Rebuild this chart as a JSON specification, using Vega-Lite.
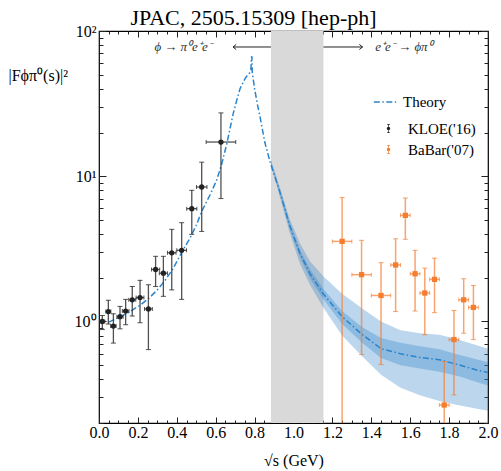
{
  "$schema": "https://vega.github.io/schema/vega-lite/v6.json",
  "width": 389,
  "height": 392,
  "autosize": "none",
  "padding": {"left": 99, "top": 31, "right": 13, "bottom": 48},
  "background": "white",
  "title": {"text": "JPAC, 2505.15309 [hep-ph]", "font": "Liberation Serif", "fontSize": 22, "fontWeight": "normal", "color": "black", "anchor": "middle", "frame": "group", "offset": -7, "dx": -40},
  "config": {
    "view": {"stroke": "black", "strokeWidth": 1.2},
    "axis": {"domain": false, "grid": false, "labelFont": "Liberation Serif", "labelFontSize": 16, "labelColor": "black", "titleFont": "Liberation Serif", "titleFontWeight": "normal", "titleColor": "black", "tickColor": "#222", "tickWidth": 1, "labelFlush": false, "labelOverlap": false},
    "legend": {"labelFont": "Liberation Serif", "labelFontSize": 15, "labelColor": "black", "padding": 0}
  },
  "datasets": {
    "gray": [{"a": 0.884, "b": 1.154}],
    "theory": [
      {"x": 0.05, "y": 0.99}, {"x": 0.10, "y": 1.06}, {"x": 0.15, "y": 1.15}, {"x": 0.21, "y": 1.29},
      {"x": 0.26, "y": 1.46}, {"x": 0.30, "y": 1.65}, {"x": 0.34, "y": 1.92}, {"x": 0.38, "y": 2.3},
      {"x": 0.42, "y": 2.9}, {"x": 0.47, "y": 3.8}, {"x": 0.50, "y": 4.6}, {"x": 0.53, "y": 5.8},
      {"x": 0.57, "y": 7.4}, {"x": 0.605, "y": 9.4}, {"x": 0.63, "y": 12.0}, {"x": 0.656, "y": 16.5},
      {"x": 0.69, "y": 27}, {"x": 0.71, "y": 34}, {"x": 0.725, "y": 40}, {"x": 0.74, "y": 44},
      {"x": 0.751, "y": 47}, {"x": 0.765, "y": 50}, {"x": 0.775, "y": 51.5}, {"x": 0.781, "y": 54},
      {"x": 0.784, "y": 66}, {"x": 0.786, "y": 67}, {"x": 0.788, "y": 52}, {"x": 0.80, "y": 40},
      {"x": 0.815, "y": 31}, {"x": 0.828, "y": 25.6}, {"x": 0.853, "y": 17}, {"x": 0.88, "y": 12.5},
      {"x": 0.90, "y": 10.3}, {"x": 0.93, "y": 7.8}, {"x": 0.98, "y": 4.6}, {"x": 1.033, "y": 2.95},
      {"x": 1.085, "y": 2.13}, {"x": 1.153, "y": 1.55}, {"x": 1.25, "y": 1.08}, {"x": 1.35, "y": 0.82},
      {"x": 1.45, "y": 0.65}, {"x": 1.55, "y": 0.60}, {"x": 1.65, "y": 0.565}, {"x": 1.75, "y": 0.545},
      {"x": 1.85, "y": 0.503}, {"x": 1.95, "y": 0.46}, {"x": 2.0, "y": 0.445}
    ],
    "band": [
      {"x": 0.884, "lo1": 12.0, "hi1": 13.0, "lo2": 12.2, "hi2": 12.8},
      {"x": 0.93, "lo1": 7.2, "hi1": 8.4, "lo2": 7.5, "hi2": 8.1},
      {"x": 0.98, "lo1": 4.1, "hi1": 5.1, "lo2": 4.35, "hi2": 4.85},
      {"x": 1.033, "lo1": 2.5, "hi1": 3.45, "lo2": 2.77, "hi2": 3.12},
      {"x": 1.085, "lo1": 1.78, "hi1": 2.6, "lo2": 1.98, "hi2": 2.30},
      {"x": 1.153, "lo1": 1.25, "hi1": 2.05, "lo2": 1.43, "hi2": 1.68},
      {"x": 1.25, "lo1": 0.80, "hi1": 1.55, "lo2": 0.96, "hi2": 1.18},
      {"x": 1.35, "lo1": 0.58, "hi1": 1.24, "lo2": 0.72, "hi2": 0.92},
      {"x": 1.45, "lo1": 0.43, "hi1": 1.0, "lo2": 0.56, "hi2": 0.77},
      {"x": 1.55, "lo1": 0.35, "hi1": 0.87, "lo2": 0.50, "hi2": 0.715},
      {"x": 1.65, "lo1": 0.31, "hi1": 0.83, "lo2": 0.475, "hi2": 0.675},
      {"x": 1.75, "lo1": 0.283, "hi1": 0.81, "lo2": 0.45, "hi2": 0.645},
      {"x": 1.85, "lo1": 0.265, "hi1": 0.75, "lo2": 0.42, "hi2": 0.59},
      {"x": 1.95, "lo1": 0.25, "hi1": 0.68, "lo2": 0.38, "hi2": 0.545},
      {"x": 2.0, "lo1": 0.243, "hi1": 0.648, "lo2": 0.362, "hi2": 0.524}
    ],
    "pts": [
      {"exp": "KLOE('16)", "x": 0.017, "y": 1.00, "lo": 0.88, "hi": 1.10, "xlo": 0.004, "xhi": 0.030},
      {"exp": "KLOE('16)", "x": 0.048, "y": 1.17, "lo": 0.96, "hi": 1.40, "xlo": 0.035, "xhi": 0.061},
      {"exp": "KLOE('16)", "x": 0.074, "y": 0.93, "lo": 0.71, "hi": 1.13, "xlo": 0.060, "xhi": 0.088},
      {"exp": "KLOE('16)", "x": 0.108, "y": 1.08, "lo": 0.89, "hi": 1.27, "xlo": 0.092, "xhi": 0.124},
      {"exp": "KLOE('16)", "x": 0.137, "y": 1.18, "lo": 0.95, "hi": 1.42, "xlo": 0.120, "xhi": 0.154},
      {"exp": "KLOE('16)", "x": 0.171, "y": 1.41, "lo": 1.09, "hi": 1.74, "xlo": 0.153, "xhi": 0.189},
      {"exp": "KLOE('16)", "x": 0.211, "y": 1.46, "lo": 0.98, "hi": 1.92, "xlo": 0.191, "xhi": 0.231},
      {"exp": "KLOE('16)", "x": 0.254, "y": 1.22, "lo": 0.64, "hi": 1.79, "xlo": 0.234, "xhi": 0.274},
      {"exp": "KLOE('16)", "x": 0.291, "y": 2.28, "lo": 1.74, "hi": 2.81, "xlo": 0.270, "xhi": 0.312},
      {"exp": "KLOE('16)", "x": 0.331, "y": 2.15, "lo": 1.49, "hi": 2.81, "xlo": 0.310, "xhi": 0.352},
      {"exp": "KLOE('16)", "x": 0.374, "y": 2.97, "lo": 1.65, "hi": 4.31, "xlo": 0.352, "xhi": 0.396},
      {"exp": "KLOE('16)", "x": 0.425, "y": 3.09, "lo": 1.42, "hi": 4.79, "xlo": 0.400, "xhi": 0.450},
      {"exp": "KLOE('16)", "x": 0.477, "y": 5.98, "lo": 3.98, "hi": 8.0, "xlo": 0.451, "xhi": 0.503},
      {"exp": "KLOE('16)", "x": 0.528, "y": 8.43, "lo": 4.17, "hi": 12.5, "xlo": 0.501, "xhi": 0.555},
      {"exp": "KLOE('16)", "x": 0.627, "y": 17.2, "lo": 7.02, "hi": 27.3, "xlo": 0.551, "xhi": 0.703},
      {"exp": "BaBar('07)", "x": 1.25, "y": 3.56, "lo": 0.05, "hi": 7.13, "xlo": 1.20, "xhi": 1.30},
      {"exp": "BaBar('07)", "x": 1.35, "y": 2.10, "lo": 0.592, "hi": 3.62, "xlo": 1.30, "xhi": 1.40},
      {"exp": "BaBar('07)", "x": 1.45, "y": 1.51, "lo": 0.505, "hi": 2.54, "xlo": 1.40, "xhi": 1.50},
      {"exp": "BaBar('07)", "x": 1.525, "y": 2.45, "lo": 1.17, "hi": 3.71, "xlo": 1.50, "xhi": 1.55},
      {"exp": "BaBar('07)", "x": 1.575, "y": 5.38, "lo": 3.68, "hi": 7.08, "xlo": 1.55, "xhi": 1.60},
      {"exp": "BaBar('07)", "x": 1.625, "y": 2.13, "lo": 1.18, "hi": 3.09, "xlo": 1.60, "xhi": 1.65},
      {"exp": "BaBar('07)", "x": 1.675, "y": 1.57, "lo": 0.81, "hi": 2.33, "xlo": 1.65, "xhi": 1.70},
      {"exp": "BaBar('07)", "x": 1.725, "y": 1.95, "lo": 1.15, "hi": 2.73, "xlo": 1.70, "xhi": 1.75},
      {"exp": "BaBar('07)", "x": 1.775, "y": 0.266, "lo": 0.05, "hi": 0.53, "xlo": 1.75, "xhi": 1.80},
      {"exp": "BaBar('07)", "x": 1.825, "y": 0.751, "lo": 0.312, "hi": 1.19, "xlo": 1.80, "xhi": 1.85},
      {"exp": "BaBar('07)", "x": 1.875, "y": 1.41, "lo": 0.83, "hi": 1.97, "xlo": 1.85, "xhi": 1.90},
      {"exp": "BaBar('07)", "x": 1.925, "y": 1.25, "lo": 0.75, "hi": 1.77, "xlo": 1.90, "xhi": 1.95}
    ],
    "ann": [
      {"t": "ϕ → π⁰e⁺e⁻", "x": 0.432, "y": 77.6},
      {"t": "e⁺e⁻ → ϕπ⁰", "x": 1.568, "y": 77.6}
    ],
    "arrowL": [{"x1": 0.689, "x2": 0.884, "y": 77.6}],
    "arrowR": [{"x1": 1.154, "x2": 1.355, "y": 77.6}]
  },
  "layer": [
    {
      "data": {"name": "gray"},
      "mark": {"type": "rect", "fill": "#d9d9d9"},
      "encoding": {
        "x": {"field": "a", "type": "quantitative", "scale": {"domain": [0, 2], "nice": false, "zero": false}, "axis": null},
        "x2": {"field": "b"}
      }
    },
    {
      "data": {"name": "band"},
      "mark": {"type": "area", "fill": "#2a80c8", "opacity": 0.32, "clip": true},
      "encoding": {
        "x": {"field": "x", "type": "quantitative", "scale": {"domain": [0, 2], "nice": false, "zero": false}, "axis": null},
        "y": {"field": "lo1", "type": "quantitative", "scale": {"type": "log", "domain": [0.2, 100], "nice": false}, "axis": null},
        "y2": {"field": "hi1"}
      }
    },
    {
      "data": {"name": "band"},
      "mark": {"type": "area", "fill": "#2a80c8", "opacity": 0.32, "clip": true},
      "encoding": {
        "x": {"field": "x", "type": "quantitative", "scale": {"domain": [0, 2], "nice": false, "zero": false}, "axis": null},
        "y": {"field": "lo2", "type": "quantitative", "scale": {"type": "log", "domain": [0.2, 100], "nice": false}, "axis": null},
        "y2": {"field": "hi2"}
      }
    },
    {
      "data": {"name": "theory"},
      "mark": {"type": "line", "stroke": "#2a84cc", "strokeWidth": 1.5, "clip": true},
      "encoding": {
        "x": {"field": "x", "type": "quantitative", "scale": {"domain": [0, 2], "nice": false, "zero": false}, "axis": null},
        "y": {"field": "y", "type": "quantitative", "scale": {"type": "log", "domain": [0.2, 100], "nice": false}, "axis": null},
        "strokeDash": {"datum": "Theory", "type": "nominal", "scale": {"domain": ["Theory"], "range": [[6, 2.5, 1.5, 2.5]]},
          "legend": {"title": null, "orient": "none", "legendX": 274, "legendY": 59, "symbolStrokeColor": "#2a84cc", "symbolSize": 500, "symbolStrokeWidth": 1.5, "labelOffset": 6}}
      }
    },
    {
      "data": {"name": "arrowL"},
      "mark": {"type": "rule", "stroke": "#222", "strokeWidth": 1},
      "encoding": {
        "x": {"field": "x1", "type": "quantitative", "scale": {"domain": [0, 2], "nice": false, "zero": false}, "axis": null},
        "x2": {"field": "x2"},
        "y": {"field": "y", "type": "quantitative", "scale": {"type": "log", "domain": [0.2, 100], "nice": false}, "axis": null}
      }
    },
    {
      "data": {"name": "arrowR"},
      "mark": {"type": "rule", "stroke": "#222", "strokeWidth": 1},
      "encoding": {
        "x": {"field": "x1", "type": "quantitative", "scale": {"domain": [0, 2], "nice": false, "zero": false}, "axis": null},
        "x2": {"field": "x2"},
        "y": {"field": "y", "type": "quantitative", "scale": {"type": "log", "domain": [0.2, 100], "nice": false}, "axis": null}
      }
    },
    {
      "data": {"name": "arrowL"},
      "mark": {"type": "point", "shape": "M1,-0.8L0,0L1,0.8", "filled": false, "stroke": "#222", "strokeWidth": 1, "size": 40, "opacity": 1},
      "encoding": {
        "x": {"field": "x1", "type": "quantitative", "scale": {"domain": [0, 2], "nice": false, "zero": false}, "axis": null},
        "y": {"field": "y", "type": "quantitative", "scale": {"type": "log", "domain": [0.2, 100], "nice": false}, "axis": null}
      }
    },
    {
      "data": {"name": "arrowR"},
      "mark": {"type": "point", "shape": "M-1,-0.8L0,0L-1,0.8", "filled": false, "stroke": "#222", "strokeWidth": 1, "size": 40, "opacity": 1},
      "encoding": {
        "x": {"field": "x2", "type": "quantitative", "scale": {"domain": [0, 2], "nice": false, "zero": false}, "axis": null},
        "y": {"field": "y", "type": "quantitative", "scale": {"type": "log", "domain": [0.2, 100], "nice": false}, "axis": null}
      }
    },
    {
      "data": {"name": "ann"},
      "mark": {"type": "text", "font": "Liberation Serif", "fontSize": 13, "fontStyle": "italic", "color": "#333", "baseline": "middle", "align": "center"},
      "encoding": {
        "x": {"field": "x", "type": "quantitative", "scale": {"domain": [0, 2], "nice": false, "zero": false}, "axis": null},
        "y": {"field": "y", "type": "quantitative", "scale": {"type": "log", "domain": [0.2, 100], "nice": false}, "axis": null},
        "text": {"field": "t"}
      }
    },
    {
      "data": {"name": "pts"},
      "transform": [{"filter": {"field": "exp", "equal": "KLOE('16)"}}],
      "mark": {"type": "rule", "stroke": "#333", "strokeWidth": 1.3, "opacity": 0.85, "clip": true},
      "encoding": {
        "x": {"field": "x", "type": "quantitative", "scale": {"domain": [0, 2], "nice": false, "zero": false}, "axis": null},
        "y": {"field": "lo", "type": "quantitative", "scale": {"type": "log", "domain": [0.2, 100], "nice": false}, "axis": null},
        "y2": {"field": "hi"}
      }
    },
    {
      "data": {"name": "pts"},
      "transform": [{"filter": {"field": "exp", "equal": "KLOE('16)"}}],
      "mark": {"type": "rule", "stroke": "#333", "strokeWidth": 1.3, "opacity": 0.85, "clip": true},
      "encoding": {
        "x": {"field": "xlo", "type": "quantitative", "scale": {"domain": [0, 2], "nice": false, "zero": false}, "axis": null},
        "x2": {"field": "xhi"},
        "y": {"field": "y", "type": "quantitative", "scale": {"type": "log", "domain": [0.2, 100], "nice": false}, "axis": null}
      }
    },
    {
      "data": {"name": "pts"},
      "transform": [{"filter": {"field": "exp", "equal": "KLOE('16)"}}],
      "mark": {"type": "tick", "orient": "horizontal", "size": 5, "thickness": 1, "color": "#333", "opacity": 0.85, "clip": true},
      "encoding": {
        "x": {"field": "x", "type": "quantitative", "scale": {"domain": [0, 2], "nice": false, "zero": false}, "axis": null},
        "y": {"field": "hi", "type": "quantitative", "scale": {"type": "log", "domain": [0.2, 100], "nice": false}, "axis": null}
      }
    },
    {
      "data": {"name": "pts"},
      "transform": [{"filter": {"field": "exp", "equal": "KLOE('16)"}}],
      "mark": {"type": "tick", "orient": "horizontal", "size": 5, "thickness": 1, "color": "#333", "opacity": 0.85, "clip": true},
      "encoding": {
        "x": {"field": "x", "type": "quantitative", "scale": {"domain": [0, 2], "nice": false, "zero": false}, "axis": null},
        "y": {"field": "lo", "type": "quantitative", "scale": {"type": "log", "domain": [0.2, 100], "nice": false}, "axis": null}
      }
    },
    {
      "data": {"name": "pts"},
      "transform": [{"filter": {"field": "exp", "equal": "KLOE('16)"}}],
      "mark": {"type": "tick", "orient": "vertical", "size": 4, "thickness": 1, "color": "#333", "opacity": 0.85, "clip": true},
      "encoding": {
        "x": {"field": "xlo", "type": "quantitative", "scale": {"domain": [0, 2], "nice": false, "zero": false}, "axis": null},
        "y": {"field": "y", "type": "quantitative", "scale": {"type": "log", "domain": [0.2, 100], "nice": false}, "axis": null}
      }
    },
    {
      "data": {"name": "pts"},
      "transform": [{"filter": {"field": "exp", "equal": "KLOE('16)"}}],
      "mark": {"type": "tick", "orient": "vertical", "size": 4, "thickness": 1, "color": "#333", "opacity": 0.85, "clip": true},
      "encoding": {
        "x": {"field": "xhi", "type": "quantitative", "scale": {"domain": [0, 2], "nice": false, "zero": false}, "axis": null},
        "y": {"field": "y", "type": "quantitative", "scale": {"type": "log", "domain": [0.2, 100], "nice": false}, "axis": null}
      }
    },
    {
      "data": {"name": "pts"},
      "transform": [{"filter": {"field": "exp", "equal": "BaBar('07)"}}],
      "mark": {"type": "rule", "stroke": "#f47d30", "strokeWidth": 1.5, "opacity": 0.7, "clip": true},
      "encoding": {
        "x": {"field": "x", "type": "quantitative", "scale": {"domain": [0, 2], "nice": false, "zero": false}, "axis": null},
        "y": {"field": "lo", "type": "quantitative", "scale": {"type": "log", "domain": [0.2, 100], "nice": false}, "axis": null},
        "y2": {"field": "hi"}
      }
    },
    {
      "data": {"name": "pts"},
      "transform": [{"filter": {"field": "exp", "equal": "BaBar('07)"}}],
      "mark": {"type": "rule", "stroke": "#f47d30", "strokeWidth": 1.5, "opacity": 0.7, "clip": true},
      "encoding": {
        "x": {"field": "xlo", "type": "quantitative", "scale": {"domain": [0, 2], "nice": false, "zero": false}, "axis": null},
        "x2": {"field": "xhi"},
        "y": {"field": "y", "type": "quantitative", "scale": {"type": "log", "domain": [0.2, 100], "nice": false}, "axis": null}
      }
    },
    {
      "data": {"name": "pts"},
      "transform": [{"filter": {"field": "exp", "equal": "BaBar('07)"}}],
      "mark": {"type": "tick", "orient": "horizontal", "size": 5, "thickness": 1, "color": "#f47d30", "opacity": 0.7, "clip": true},
      "encoding": {
        "x": {"field": "x", "type": "quantitative", "scale": {"domain": [0, 2], "nice": false, "zero": false}, "axis": null},
        "y": {"field": "hi", "type": "quantitative", "scale": {"type": "log", "domain": [0.2, 100], "nice": false}, "axis": null}
      }
    },
    {
      "data": {"name": "pts"},
      "transform": [{"filter": {"field": "exp", "equal": "BaBar('07)"}}],
      "mark": {"type": "tick", "orient": "horizontal", "size": 5, "thickness": 1, "color": "#f47d30", "opacity": 0.7, "clip": true},
      "encoding": {
        "x": {"field": "x", "type": "quantitative", "scale": {"domain": [0, 2], "nice": false, "zero": false}, "axis": null},
        "y": {"field": "lo", "type": "quantitative", "scale": {"type": "log", "domain": [0.2, 100], "nice": false}, "axis": null}
      }
    },
    {
      "data": {"name": "pts"},
      "transform": [{"filter": {"field": "exp", "equal": "BaBar('07)"}}],
      "mark": {"type": "tick", "orient": "vertical", "size": 4, "thickness": 1, "color": "#f47d30", "opacity": 0.7, "clip": true},
      "encoding": {
        "x": {"field": "xlo", "type": "quantitative", "scale": {"domain": [0, 2], "nice": false, "zero": false}, "axis": null},
        "y": {"field": "y", "type": "quantitative", "scale": {"type": "log", "domain": [0.2, 100], "nice": false}, "axis": null}
      }
    },
    {
      "data": {"name": "pts"},
      "transform": [{"filter": {"field": "exp", "equal": "BaBar('07)"}}],
      "mark": {"type": "tick", "orient": "vertical", "size": 4, "thickness": 1, "color": "#f47d30", "opacity": 0.7, "clip": true},
      "encoding": {
        "x": {"field": "xhi", "type": "quantitative", "scale": {"domain": [0, 2], "nice": false, "zero": false}, "axis": null},
        "y": {"field": "y", "type": "quantitative", "scale": {"type": "log", "domain": [0.2, 100], "nice": false}, "axis": null}
      }
    },
    {
      "data": {"name": "pts"},
      "transform": [{"filter": {"field": "exp", "equal": "KLOE('16)"}}],
      "mark": {"type": "point", "shape": "circle", "filled": true, "size": 28, "opacity": 1, "clip": true},
      "encoding": {
        "x": {"field": "x", "type": "quantitative", "scale": {"domain": [0, 2], "nice": false, "zero": false}, "axis": null},
        "y": {"field": "y", "type": "quantitative", "scale": {"type": "log", "domain": [0.2, 100], "nice": false}, "axis": null},
        "color": {"field": "exp", "type": "nominal", "scale": {"domain": ["KLOE('16)", "BaBar('07)"], "range": ["#222222", "#f47d30"]},
          "legend": {"title": null, "orient": "none", "legendX": 282, "legendY": 90, "symbolType": "M-0.08,-1H0.08V1H-0.08Z M-0.3,-1H0.3V-0.86H-0.3Z M-0.3,0.86H0.3V1H-0.3Z M0.38,0A0.38,0.38 0 1,1 -0.38,0A0.38,0.38 0 1,1 0.38,0Z", "symbolSize": 80, "labelOffset": 12, "rowPadding": 5, "symbolOpacity": 1}}
      }
    },
    {
      "data": {"name": "pts"},
      "transform": [{"filter": {"field": "exp", "equal": "BaBar('07)"}}],
      "mark": {"type": "point", "shape": "square", "filled": true, "size": 28, "opacity": 1, "clip": true},
      "encoding": {
        "x": {"field": "x", "type": "quantitative", "scale": {"domain": [0, 2], "nice": false, "zero": false}, "axis": null},
        "y": {"field": "y", "type": "quantitative", "scale": {"type": "log", "domain": [0.2, 100], "nice": false}, "axis": null},
        "color": {"field": "exp", "type": "nominal", "scale": {"domain": ["KLOE('16)", "BaBar('07)"], "range": ["#222222", "#f47d30"]}, "legend": null}
      }
    },
    {
      "data": {"name": "theory"},
      "mark": {"type": "point", "opacity": 0},
      "encoding": {
        "x": {"field": "x", "type": "quantitative", "scale": {"domain": [0, 2], "nice": false, "zero": false},
          "axis": {"orient": "bottom", "values": [0, 0.2, 0.4, 0.6, 0.8, 1, 1.2, 1.4, 1.6, 1.8, 2], "format": ".1f", "tickSize": -6, "labelPadding": 7, "title": "√s (GeV)", "titleFontSize": 16, "titleY": 37, "titleBaseline": "middle"}},
        "y": {"field": "y", "type": "quantitative", "scale": {"type": "log", "domain": [0.2, 100], "nice": false},
          "axis": {"orient": "left", "values": [1, 10, 100], "labelExpr": "datum.value == 1 ? '10⁰' : datum.value == 10 ? '10¹' : '10²'", "tickSize": -7, "labelPadding": 10, "labelBaseline": "middle", "title": "|Fϕπ⁰(s)|²", "titleFontSize": 16, "titleAngle": 0, "titleX": -91, "titleY": 44, "titleAlign": "left", "titleBaseline": "middle"}}
      }
    },
    {
      "data": {"name": "theory"},
      "mark": {"type": "point", "opacity": 0},
      "encoding": {
        "x": {"field": "x", "type": "quantitative", "scale": {"domain": [0, 2], "nice": false, "zero": false},
          "axis": {"orient": "bottom", "values": [0.05, 0.1, 0.15, 0.25, 0.3, 0.35, 0.45, 0.5, 0.55, 0.65, 0.7, 0.75, 0.85, 0.9, 0.95, 1.05, 1.1, 1.15, 1.25, 1.3, 1.35, 1.45, 1.5, 1.55, 1.65, 1.7, 1.75, 1.85, 1.9, 1.95], "labels": false, "tickSize": -3, "title": null}},
        "y": {"field": "y", "type": "quantitative", "scale": {"type": "log", "domain": [0.2, 100], "nice": false},
          "axis": {"orient": "left", "values": [0.2, 0.3, 0.4, 0.5, 0.6, 0.7, 0.8, 0.9, 2, 3, 4, 5, 6, 7, 8, 9, 20, 30, 40, 50, 60, 70, 80, 90], "labels": false, "tickSize": -4, "title": null}}
      }
    },
    {
      "data": {"name": "theory"},
      "mark": {"type": "point", "opacity": 0},
      "encoding": {
        "x": {"field": "x", "type": "quantitative", "scale": {"domain": [0, 2], "nice": false, "zero": false},
          "axis": {"orient": "top", "values": [0, 0.2, 0.4, 0.6, 0.8, 1, 1.2, 1.4, 1.6, 1.8, 2], "labels": false, "tickSize": -6, "title": null}},
        "y": {"field": "y", "type": "quantitative", "scale": {"type": "log", "domain": [0.2, 100], "nice": false},
          "axis": {"orient": "right", "values": [1, 10, 100], "labels": false, "tickSize": -7, "title": null}}
      }
    },
    {
      "data": {"name": "theory"},
      "mark": {"type": "point", "opacity": 0},
      "encoding": {
        "x": {"field": "x", "type": "quantitative", "scale": {"domain": [0, 2], "nice": false, "zero": false},
          "axis": {"orient": "top", "values": [0.05, 0.1, 0.15, 0.25, 0.3, 0.35, 0.45, 0.5, 0.55, 0.65, 0.7, 0.75, 0.85, 0.9, 0.95, 1.05, 1.1, 1.15, 1.25, 1.3, 1.35, 1.45, 1.5, 1.55, 1.65, 1.7, 1.75, 1.85, 1.9, 1.95], "labels": false, "tickSize": -3, "title": null}},
        "y": {"field": "y", "type": "quantitative", "scale": {"type": "log", "domain": [0.2, 100], "nice": false},
          "axis": {"orient": "right", "values": [0.2, 0.3, 0.4, 0.5, 0.6, 0.7, 0.8, 0.9, 2, 3, 4, 5, 6, 7, 8, 9, 20, 30, 40, 50, 60, 70, 80, 90], "labels": false, "tickSize": -4, "title": null}}
      }
    }
  ],
  "resolve": {"axis": {"x": "independent", "y": "independent"}}
}
